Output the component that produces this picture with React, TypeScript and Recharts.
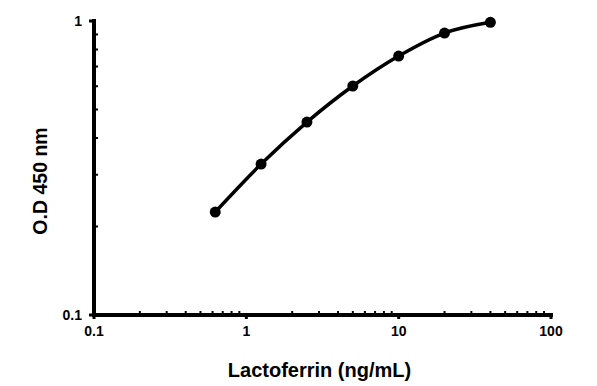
import React from 'react'
import { LineChart, Line, XAxis, YAxis, Label, ReferenceLine } from 'recharts'

const concentrations = [0.625, 1.25, 2.5, 5, 10, 20, 40]
const odValues = [0.224, 0.326, 0.453, 0.601, 0.76, 0.91, 0.99]
const xMajorTicks = [0.1, 1, 10, 100]
const yMajorTicks = [0.1, 1]
const xMinorTicks = [0.2, 0.3, 0.4, 0.5, 0.6, 0.7, 0.8, 0.9, 2, 3, 4, 5, 6, 7, 8, 9, 20, 30, 40, 50, 60, 70, 80, 90]
const yMinorTicks = [0.2, 0.3, 0.4, 0.5, 0.6, 0.7, 0.8, 0.9]

const data = concentrations.map((c, i) => ({ conc: c, od: odValues[i] }))
const xTicks = [...xMajorTicks, ...xMinorTicks].sort((a, b) => a - b)
const yTicks = [...yMajorTicks, ...yMinorTicks].sort((a, b) => a - b)

const font = '"Liberation Sans", Arial, sans-serif'
const TICK_SIZE = 4
const X_MARGIN = 7
const Y_MARGIN = 8

function XTick({ x, y, payload }: any) {
  const axisY = y - TICK_SIZE - X_MARGIN
  const major = xMajorTicks.includes(payload.value)
  if (!major) {
    return <line x1={x} x2={x} y1={axisY} y2={axisY - 4} stroke="#000" strokeWidth={2} />
  }
  return (
    <g>
      <line x1={x} x2={x} y1={axisY} y2={axisY + TICK_SIZE} stroke="#000" strokeWidth={3} />
      <text x={x} y={y} dy="0.71em" textAnchor="middle" fill="#000" stroke="none"
        style={{ fontFamily: font, fontSize: 14, fontWeight: 700 }}>
        {payload.value}
      </text>
    </g>
  )
}

function YTick({ x, y, payload }: any) {
  const axisX = x + TICK_SIZE + Y_MARGIN
  const major = yMajorTicks.includes(payload.value)
  if (!major) {
    return <line x1={axisX} x2={axisX + 4} y1={y} y2={y} stroke="#000" strokeWidth={2} />
  }
  return (
    <g>
      <line x1={axisX} x2={axisX - TICK_SIZE - 1} y1={y} y2={y} stroke="#000" strokeWidth={3} />
      <text x={x} y={y} dy="0.355em" textAnchor="end" fill="#000" stroke="none"
        style={{ fontFamily: font, fontSize: 14, fontWeight: 700 }}>
        {payload.value}
      </text>
    </g>
  )
}

export default function App() {
  return (
    <div style={{ position: 'absolute', left: 0, top: 0, background: '#fff' }}>
      <LineChart width={597} height={386} data={data} margin={{ top: 21, right: 46, bottom: 31, left: 34 }}>
        <XAxis
          dataKey="conc"
          type="number"
          scale="log"
          domain={[0.1, 100]}
          ticks={xTicks}
          interval={0}
          height={40}
          axisLine={false}
          tickLine={false}
          tickSize={TICK_SIZE}
          tickMargin={X_MARGIN}
          tick={<XTick />}
        >
          <Label
            content={({ viewBox }: any) => (
              <text
                x={viewBox.x + viewBox.width / 2 - 3}
                y={377}
                textAnchor="middle"
                style={{ fontFamily: font, fontSize: 20, fontWeight: 700 }}
                fill="#000"
              >
                Lactoferrin (ng/mL)
              </text>
            )}
          />
        </XAxis>
        <YAxis
          type="number"
          scale="log"
          domain={[0.1, 1]}
          ticks={yTicks}
          interval={0}
          width={60}
          axisLine={false}
          tickLine={false}
          tickSize={TICK_SIZE}
          tickMargin={Y_MARGIN}
          tick={<YTick />}
        >
          <Label
            content={({ viewBox }: any) => {
              const cy = viewBox.y + viewBox.height / 2 + 13
              return (
                <text
                  x={47}
                  y={cy}
                  textAnchor="middle"
                  transform={`rotate(-90, 47, ${cy})`}
                  style={{ fontFamily: font, fontSize: 19.5, fontWeight: 700 }}
                  fill="#000"
                >
                  O.D 450 nm
                </text>
              )
            }}
          />
        </YAxis>
        <ReferenceLine x={0.1} stroke="#000" strokeWidth={4} strokeLinecap="square" ifOverflow="visible" />
        <ReferenceLine y={0.1} stroke="#000" strokeWidth={4} strokeLinecap="square" ifOverflow="visible" />
        <Line
          dataKey="od"
          type="monotone"
          stroke="#000"
          strokeWidth={3.5}
          dot={{ r: 5.5, fill: '#000', stroke: '#000', strokeWidth: 0 }}
          isAnimationActive={false}
        />
      </LineChart>
    </div>
  )
}
